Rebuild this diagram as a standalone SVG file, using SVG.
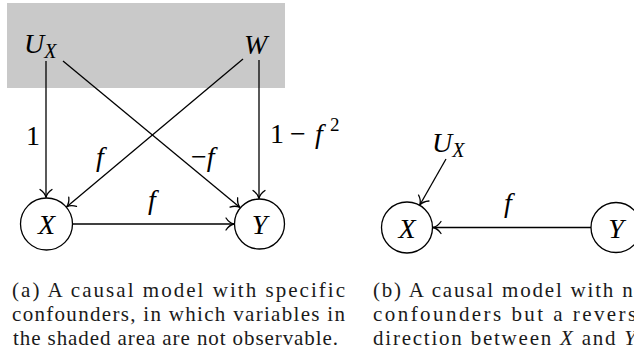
<svg xmlns="http://www.w3.org/2000/svg" width="634" height="359" viewBox="0 0 634 359">
<style>
.m{font-family:"Liberation Serif","Times New Roman",serif;font-style:italic;font-size:28px;fill:#000}
.r{font-family:"Liberation Serif","Times New Roman",serif;font-style:normal;font-size:28px;fill:#000}
.s{font-family:"Liberation Serif","Times New Roman",serif;font-style:italic;font-size:20px;fill:#000}
.c{font-family:"Liberation Serif","Times New Roman",serif;font-size:21px;fill:#1a1a1a}
.node{fill:#fff;stroke:#000;stroke-width:1.3}
.edge{fill:none;stroke:#000;stroke-width:1.3;marker-end:url(#to)}
</style>
<defs>
<marker id="to" viewBox="-10 -8 12 16" refX="0" refY="0" markerWidth="12" markerHeight="16" markerUnits="userSpaceOnUse" orient="auto" overflow="visible">
<path d="M-8,-6 C-5.5,-2.2 -2.8,-0.6 0,0 C-2.8,0.6 -5.5,2.2 -8,6" fill="none" stroke="#000" stroke-width="1.3" stroke-linecap="round"/>
</marker>
</defs>
<rect x="7" y="3" width="278" height="85" fill="#c9c9c9"/>
<g id="connectors">
<path class="edge" d="M46,61 L46,197.5"/>
<path class="edge" d="M259,60 L259,198.5"/>
<path class="edge" d="M63,61 L240,207.5"/>
<path class="edge" d="M243,59 L66.5,207"/>
<path class="edge" d="M72.5,224 L234,224"/>
<path class="edge" d="M446,159 L419.8,205"/>
<path class="edge" d="M591,227.5 L433,227.5"/>
</g>
<g id="edge-labels">
<text class="r" x="26" y="145">1</text>
<text class="r" y="143"><tspan x="270">1</tspan><tspan x="290">−</tspan><tspan class="m" x="315">f</tspan><tspan font-size="19" x="330" y="131">2</tspan></text>
<text class="m" x="96" y="166">f</text>
<text class="r" x="191" y="166">−<tspan class="m">f</tspan></text>
<text class="m" x="148" y="209">f</text>
<text class="m" x="504" y="212">f</text>
</g>
<g id="a-UX"><text class="m" x="24" y="53">U<tspan class="s" dy="5">X</tspan></text></g>
<g id="a-W"><text class="m" x="244" y="54">W</text></g>
<g id="a-X"><circle class="node" cx="46.5" cy="224" r="26"/><text class="m" x="46.5" y="234" text-anchor="middle">X</text></g>
<g id="a-Y"><circle class="node" cx="259.5" cy="224" r="25"/><text class="m" x="259.5" y="234" text-anchor="middle">Y</text></g>
<g id="b-UX"><text class="m" x="432" y="152">U<tspan class="s" dy="5">X</tspan></text></g>
<g id="b-X"><circle class="node" cx="407" cy="227.5" r="25.5"/><text class="m" x="407" y="237.5" text-anchor="middle">X</text></g>
<g id="b-Y"><circle class="node" cx="616" cy="227.5" r="25"/><text class="m" x="616" y="237.5" text-anchor="middle">Y</text></g>
<g id="captions">
<text class="c" x="12" y="297" textLength="333" lengthAdjust="spacing">(a) A causal model with specific</text>
<text class="c" x="12" y="321" textLength="333" lengthAdjust="spacing">confounders, in which variables in</text>
<text class="c" x="13" y="345" textLength="325" lengthAdjust="spacing">the shaded area are not observable.</text>
<text class="c" x="373" y="297" textLength="272" lengthAdjust="spacing">(b) A causal model with no</text>
<text class="c" x="373" y="321" textLength="275" lengthAdjust="spacing">confounders but a reverse</text>
<text class="c" x="373" y="345" textLength="270" lengthAdjust="spacing">direction between <tspan font-style="italic">X</tspan> and <tspan font-style="italic">Y</tspan>.</text>
</g>
</svg>
